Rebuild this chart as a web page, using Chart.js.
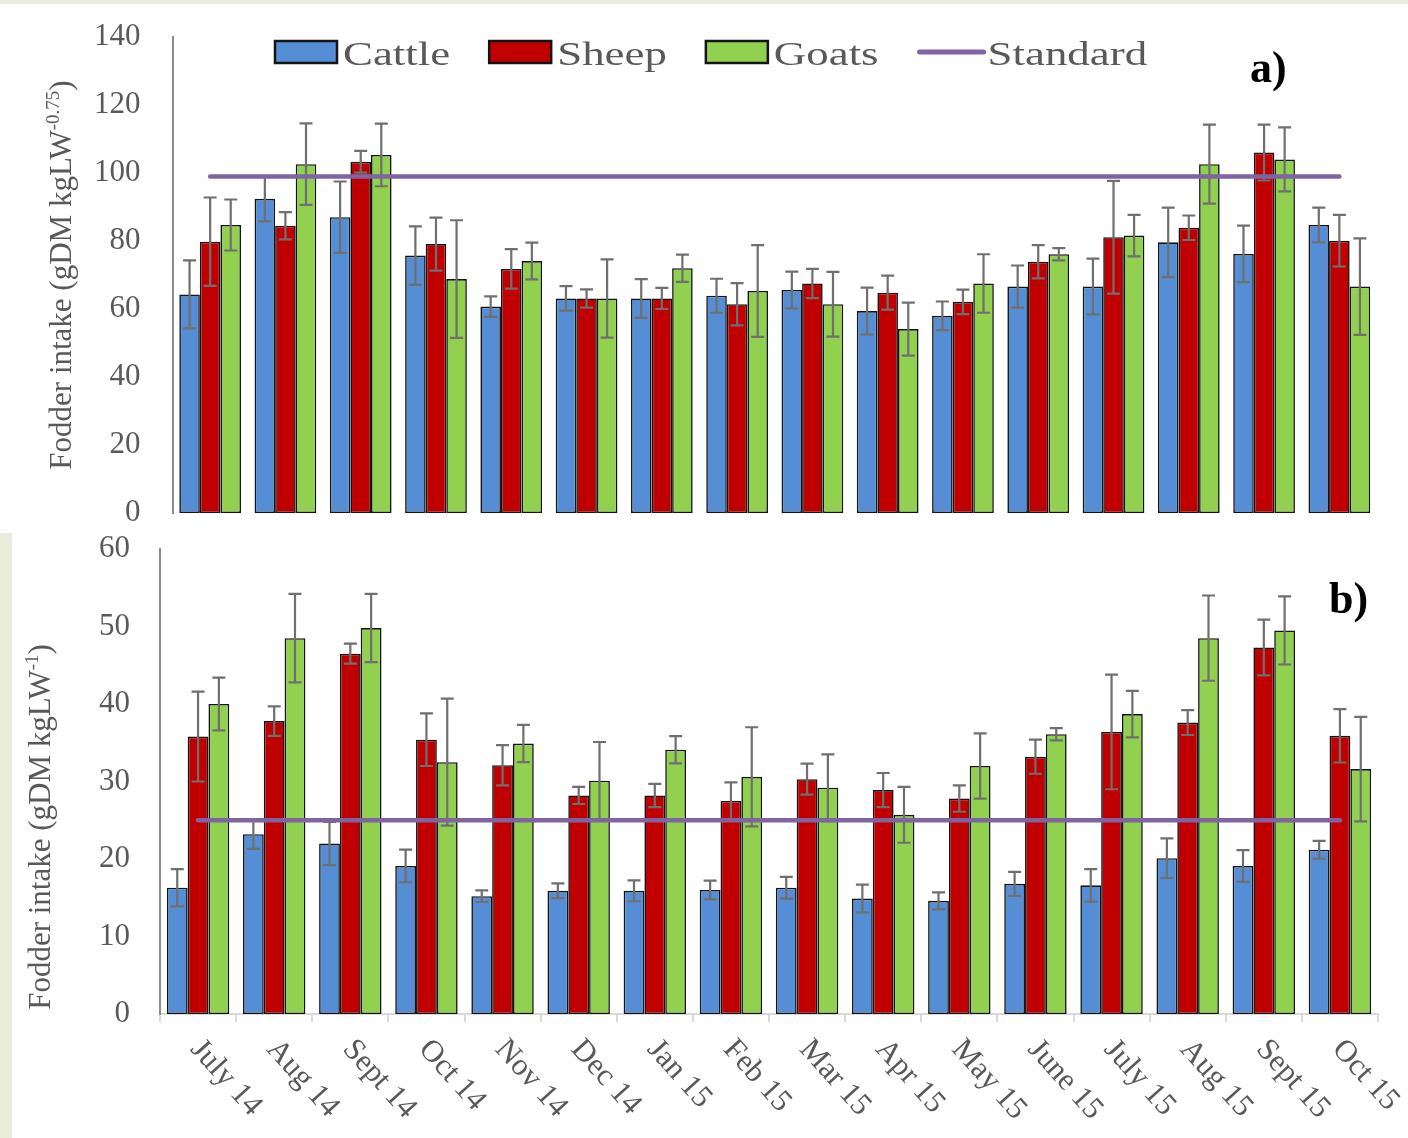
<!DOCTYPE html>
<html>
<head>
<meta charset="utf-8">
<script src="https://cdn.jsdelivr.net/npm/chart.js@4.4.1/dist/chart.umd.min.js"></script>
<style>
  html, body { margin: 0; padding: 0; background: #ffffff; }
  #wrap { position: relative; width: 1408px; height: 1138px; overflow: hidden; background: #ffffff; }
  canvas { position: absolute; left: 0; }
  #chartA { top: 0; }
  #chartB { top: 530px; }
  .strip-top { position: absolute; left: 0; top: 0; width: 1408px; height: 4px; background: #ebebdc; }
  .strip-left { position: absolute; left: 0; top: 533px; width: 12px; height: 605px; background: #ebebdc; }
</style>
</head>
<body>
<div id="wrap">
  <canvas id="chartA" width="1408" height="530"></canvas>
  <canvas id="chartB" width="1408" height="608"></canvas>
  <div class="strip-top"></div>
  <div class="strip-left"></div>
</div>
<script>
// Months of the survey (July 2014 - October 2015)
const months = ['July 14', 'Aug 14', 'Sept 14', 'Oct 14', 'Nov 14', 'Dec 14', 'Jan 15', 'Feb 15',
                'Mar 15', 'Apr 15', 'May 15', 'June 15', 'July 15', 'Aug 15', 'Sept 15', 'Oct 15'];

// a) intake per metabolic weight, gDM kgLW^-0.75 (mean and error)
const cattleA    = [64.3, 92.4, 87.0, 75.7, 60.7, 63.1, 63.1, 63.9, 65.6, 59.4, 58.0, 66.6, 66.6, 79.6, 76.2, 84.7];
const cattleAErr = [10.0, 6.6, 10.5, 8.6, 3.0, 3.6, 5.7, 5.0, 5.4, 6.9, 4.2, 6.2, 8.2, 10.2, 8.3, 5.1];
const sheepA     = [79.8, 84.5, 103.3, 79.1, 71.8, 63.1, 63.1, 61.4, 67.5, 64.8, 62.1, 73.9, 81.1, 83.9, 106.0, 80.1];
const sheepAErr  = [13.0, 4.0, 3.2, 7.8, 5.8, 2.7, 3.1, 6.2, 4.3, 5.0, 3.6, 4.9, 16.6, 3.6, 8.2, 7.6];
const goatsA     = [84.7, 102.6, 105.3, 68.8, 74.1, 63.1, 72.0, 65.3, 61.4, 54.1, 67.5, 76.1, 81.6, 102.6, 104.0, 66.6];
const goatsAErr  = [7.5, 12.0, 9.2, 17.3, 5.4, 11.5, 4.0, 13.5, 9.5, 7.8, 8.6, 1.8, 6.1, 11.6, 9.4, 14.2];
const standardA  = [99, 99, 99, 99, 99, 99, 99, 99, 99, 99, 99, 99, 99, 99, 99, 99];

// b) intake per live weight, gDM kgLW^-1 (mean and error)
const cattleB    = [16.3, 23.2, 22.0, 19.1, 15.2, 15.9, 15.9, 16.0, 16.3, 14.9, 14.6, 16.8, 16.6, 20.1, 19.1, 21.2];
const cattleBErr = [2.4, 1.9, 2.8, 2.1, 0.75, 0.95, 1.35, 1.2, 1.4, 1.8, 1.1, 1.55, 2.1, 2.55, 2.05, 1.15];
const sheepB     = [35.8, 37.8, 46.5, 35.4, 32.1, 28.2, 28.2, 27.5, 30.3, 28.9, 27.8, 33.2, 36.4, 37.6, 47.3, 35.9];
const sheepBErr  = [5.8, 1.9, 1.3, 3.4, 2.6, 1.1, 1.5, 2.4, 2.0, 2.2, 1.7, 2.2, 7.4, 1.6, 3.6, 3.45];
const goatsB     = [40.0, 48.5, 49.8, 32.5, 34.9, 30.1, 34.1, 30.6, 29.2, 25.7, 32.0, 36.1, 38.7, 48.5, 49.5, 31.6];
const goatsBErr  = [3.4, 5.7, 4.4, 8.2, 2.4, 5.0, 1.75, 6.4, 4.3, 3.6, 4.2, 0.8, 3.0, 5.5, 4.4, 6.75];
const standardB  = [25, 25, 25, 25, 25, 25, 25, 25, 25, 25, 25, 25, 25, 25, 25, 25];

const FONT = "'Liberation Serif', 'Times New Roman', serif";
const TEXT = '#595959';
const COL = { cattle: '#558ed5', sheep: '#c00000', goats: '#92d050', standard: '#8064a2' };

function barSet(label, data, errors, color) {
  return {
    type: 'bar', label, data, errors,
    backgroundColor: color, borderColor: '#141414', borderWidth: 1.6, borderSkipped: false,
    categoryPercentage: 0.82, barPercentage: 1.0, order: 1
  };
}
function lineSet(label, data) {
  return {
    type: 'line', label, data,
    borderColor: COL.standard, borderWidth: 4.5, pointRadius: 0, tension: 0,
    borderCapStyle: 'round', fill: false, order: 0
  };
}

// Vertical error bars with caps, drawn right after each bar dataset
const errorBars = {
  id: 'errorBars',
  afterDatasetDraw(chart, args) {
    const ds = chart.data.datasets[args.index];
    if (!ds.errors) return;
    const y = chart.scales.y, ctx = chart.ctx;
    ctx.save();
    ctx.strokeStyle = '#6f6f6f';
    ctx.lineWidth = 2.2;
    args.meta.data.forEach((bar, i) => {
      const v = ds.data[i], e = ds.errors[i];
      const yTop = y.getPixelForValue(v + e), yBot = y.getPixelForValue(v - e);
      const x = bar.x, hw = 6.5;
      ctx.beginPath();
      ctx.moveTo(x, yTop); ctx.lineTo(x, yBot);
      ctx.moveTo(x - hw, yTop); ctx.lineTo(x + hw, yTop);
      ctx.moveTo(x - hw, yBot); ctx.lineTo(x + hw, yBot);
      ctx.stroke();
    });
    ctx.restore();
  }
};

function drawYTitle(ctx, cx, cy, main, sup, tail) {
  ctx.save();
  ctx.translate(cx, cy);
  ctx.rotate(-Math.PI / 2);
  ctx.fillStyle = TEXT;
  ctx.textBaseline = 'middle';
  ctx.textAlign = 'left';
  const fMain = `31px ${FONT}`, fSup = `19px ${FONT}`;
  ctx.font = fMain;
  const w1 = ctx.measureText(main).width, w3 = ctx.measureText(tail).width;
  ctx.font = fSup;
  const w2 = ctx.measureText(sup).width;
  let x = -(w1 + w2 + w3) / 2;
  ctx.font = fMain; ctx.fillText(main, x, 0); x += w1;
  ctx.font = fSup; ctx.fillText(sup, x, -9); x += w2;
  ctx.font = fMain; ctx.fillText(tail, x, 0);
  ctx.restore();
}

function drawPanelLetter(ctx, text, x, y) {
  ctx.save();
  ctx.fillStyle = '#000000';
  ctx.font = `bold 44px ${FONT}`;
  ctx.textAlign = 'left';
  ctx.textBaseline = 'alphabetic';
  ctx.fillText(text, x, y);
  ctx.restore();
}

// Legend laid out in a row inside the plot of panel a)
function drawLegend(chart, startX, midY) {
  const ctx = chart.ctx;
  const stretch = 1.36;
  ctx.save();
  ctx.font = `33px ${FONT}`;
  ctx.textBaseline = 'alphabetic';
  ctx.textAlign = 'left';
  let x = startX;
  chart.data.datasets.forEach(ds => {
    if (ds.type === 'bar') {
      ctx.fillStyle = ds.backgroundColor;
      ctx.fillRect(x, midY - 11, 62, 22);
      ctx.strokeStyle = '#141414';
      ctx.lineWidth = 2.5;
      ctx.strokeRect(x, midY - 11, 62, 22);
      x += 62 + 6;
    } else {
      ctx.strokeStyle = ds.borderColor;
      ctx.lineWidth = 5;
      ctx.lineCap = 'round';
      ctx.beginPath();
      ctx.moveTo(x + 2, midY); ctx.lineTo(x + 66, midY);
      ctx.stroke();
      x += 67 + 3;
    }
    const w = ctx.measureText(ds.label).width * stretch;
    ctx.save();
    ctx.translate(x, midY + 13);
    ctx.scale(stretch, 1);
    ctx.fillStyle = TEXT;
    ctx.fillText(ds.label, 0, 0);
    ctx.restore();
    x += w + 39;
  });
  ctx.restore();
}

const decorA = {
  id: 'decorA',
  afterDraw(chart) {
    const ctx = chart.ctx;
    drawLegend(chart, 275, 52);
    drawYTitle(ctx, 63, 275, 'Fodder intake (gDM kgLW', '-0.75', ')');
    drawPanelLetter(ctx, 'a)', 1250, 82);
  }
};

const decorB = {
  id: 'decorB',
  afterDraw(chart) {
    const ctx = chart.ctx;
    const xs = chart.scales.x;
    const base = chart.chartArea.bottom;
    ctx.save();
    ctx.fillStyle = TEXT;
    ctx.font = `31px ${FONT}`;
    ctx.textAlign = 'left';
    ctx.textBaseline = 'top';
    chart.data.labels.forEach((lab, i) => {
      const px = xs.getPixelForValue(i);
      ctx.save();
      ctx.translate(px + 9, base + 20);
      ctx.rotate(48 * Math.PI / 180);
      ctx.fillText(lab, 0, 0);
      ctx.restore();
    });
    ctx.restore();
    drawYTitle(ctx, 42, 297, 'Fodder intake (gDM kgLW', '-1', ')');
    drawPanelLetter(ctx, 'b)', 1329, 83);
  }
};

// Left value axis: labels sit 'gap' px left of the axis line
function yScale(max, step, axisWidth, gap) {
  return {
    min: 0, max,
    afterFit(s) { s.width = axisWidth; },
    ticks: { stepSize: step, padding: 0, color: TEXT, font: { family: FONT, size: 31, lineHeight: 1 } },
    grid: { display: false, drawTicks: true, tickLength: gap },
    border: { display: true, color: '#8c8c8c', width: 2 }
  };
}

new Chart(document.getElementById('chartA'), {
  data: {
    labels: months,
    datasets: [
      barSet('Cattle', cattleA, cattleAErr, COL.cattle),
      barSet('Sheep', sheepA, sheepAErr, COL.sheep),
      barSet('Goats', goatsA, goatsAErr, COL.goats),
      lineSet('Standard', standardA)
    ]
  },
  options: {
    responsive: false, animation: false, devicePixelRatio: 1,
    layout: { padding: { left: 0, right: 31, top: 37, bottom: 17 } },
    plugins: { legend: { display: false }, tooltip: { enabled: false } },
    scales: {
      x: { display: false, offset: true },
      y: yScale(140, 20, 172.5, 32)
    }
  },
  plugins: [errorBars, decorA]
});

new Chart(document.getElementById('chartB'), {
  data: {
    labels: months,
    datasets: [
      barSet('Cattle', cattleB, cattleBErr, COL.cattle),
      barSet('Sheep', sheepB, sheepBErr, COL.sheep),
      barSet('Goats', goatsB, goatsBErr, COL.goats),
      lineSet('Standard', standardB)
    ]
  },
  options: {
    responsive: false, animation: false, devicePixelRatio: 1,
    layout: { padding: { left: 0, right: 30, top: 19, bottom: 114 } },
    plugins: { legend: { display: false }, tooltip: { enabled: false } },
    scales: {
      x: {
        offset: true,
        afterFit(s) { s.height = 10; },
        ticks: { display: false },
        grid: { display: true, offset: true, drawOnChartArea: false, drawTicks: true, tickLength: 8, color: '#d9d9d9', lineWidth: 2 },
        border: { display: true, color: '#d9d9d9', width: 2 }
      },
      y: yScale(60, 10, 160, 30)
    }
  },
  plugins: [errorBars, decorB]
});
</script>
</body>
</html>
